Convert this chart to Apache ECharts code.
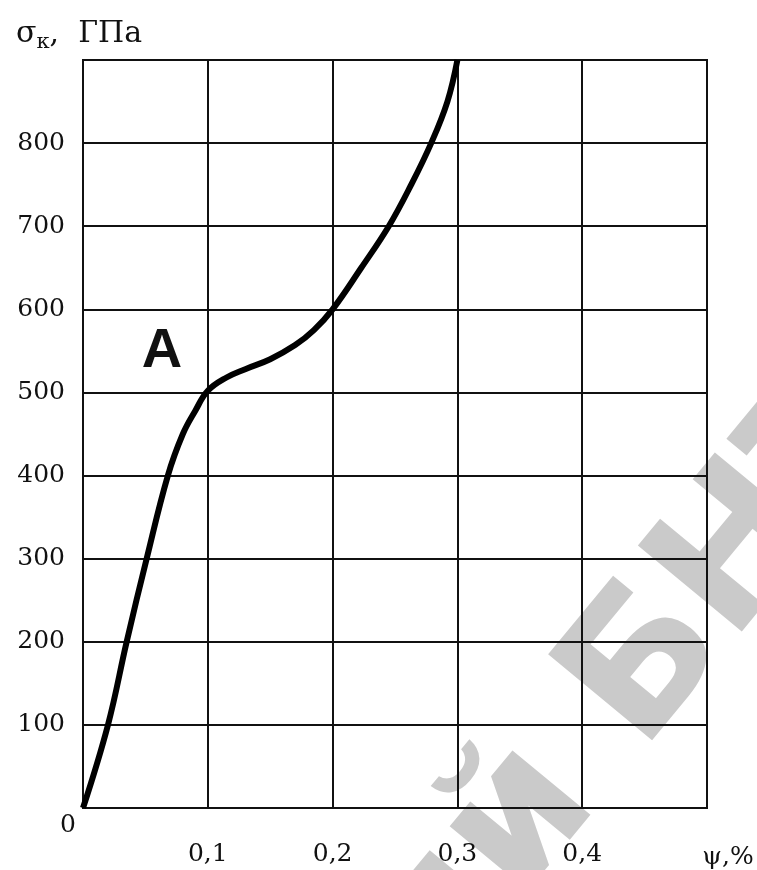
<!DOCTYPE html>
<html>
<head>
<meta charset="utf-8">
<script src="https://cdn.jsdelivr.net/npm/echarts@6/dist/echarts.min.js"></script>
<style>
  html, body { margin: 0; padding: 0; background: #fff; }
  #chart { width: 757px; height: 870px; }
</style>
</head>
<body>
<div id="chart"></div>
<script>
    // кривая σк(ψ), значения
    var psi   = [0, 0.02, 0.035, 0.051, 0.068, 0.08, 0.09, 0.1, 0.115, 0.13, 0.15, 0.17, 0.185, 0.2, 0.223, 0.245, 0.263, 0.279, 0.292, 0.3];
    var sigma = [0, 100,  200,   300,   400,   450,  478,  502, 518,   528,  540,  557,  575,   600, 650,   700,   750,   800,   850,   900];
    var xTicks = [0.1, 0.2, 0.3, 0.4];

    var serif = 'DejaVu Serif';
    var points = [];
    for (var i = 0; i < psi.length; i++) {
        points.push([psi[i], sigma[i]]);
    }

    var myChart = echarts.init(document.getElementById('chart'));
    var option = {
        backgroundColor: '#fff',
        animation: false,
        grid: {
            left: 83,
            right: 50,
            top: 60,
            bottom: 62,
            show: true,
            borderColor: '#111',
            borderWidth: 2
        },
        graphic: [
            {
                // водяной знак
                type: 'text',
                z: -10,
                x: 398,
                y: 972,
                rotation: 0.88,
                style: {
                    text: 'ий БНТУ',
                    font: 'bold 185px "DejaVu Sans"',
                    fill: '#cacaca',
                    align: 'left',
                    verticalAlign: 'middle'
                }
            },
            {
                type: 'text',
                x: 68, y: 825,
                style: { text: '0', font: '25px "DejaVu Serif"', fill: '#111', align: 'center', verticalAlign: 'middle' }
            },
            {
                type: 'text',
                x: 728, y: 857,
                style: { text: 'ψ,%', font: '25px "DejaVu Serif"', fill: '#111', align: 'center', verticalAlign: 'middle' }
            },
            {
                type: 'text',
                x: 162, y: 352,
                style: { text: 'A', font: 'bold 56px "Liberation Sans"', fill: '#111', align: 'center', verticalAlign: 'middle' }
            }
        ],
        xAxis: {
            type: 'value',
            min: 0,
            max: 0.5,
            interval: 0.1,
            axisLine: { show: true, lineStyle: { color: '#111', width: 2 } },
            axisTick: { show: false },
            splitLine: { show: true, lineStyle: { color: '#111', width: 2 } },
            axisLabel: {
                margin: 34,
                fontFamily: serif,
                fontSize: 25,
                color: '#111',
                formatter: function (v) {
                    for (var k = 0; k < xTicks.length; k++) {
                        if (Math.abs(v - xTicks[k]) < 1e-6) return String(xTicks[k]).replace('.', ',');
                    }
                    return '';
                }
            }
        },
        yAxis: {
            type: 'value',
            min: 0,
            max: 900,
            interval: 100,
            name: '{s|σ}{sub|к}{s|,  ГПа}',
            nameLocation: 'end',
            nameGap: 7,
            nameTextStyle: {
                align: 'center',
                padding: [0, 8, 0, 0],
                rich: {
                    s: { fontFamily: serif, fontSize: 30, color: '#111' },
                    sub: { fontFamily: serif, fontSize: 21, color: '#111', padding: [16, 0, 0, 0] }
                }
            },
            axisLine: { show: true, lineStyle: { color: '#111', width: 2 } },
            axisTick: { show: false },
            splitLine: { show: true, lineStyle: { color: '#111', width: 2 } },
            axisLabel: {
                margin: 18,
                fontFamily: serif,
                fontSize: 25,
                color: '#111',
                formatter: function (v) {
                    if (v === 0 || v === 900) return '';
                    return v;
                }
            }
        },
        series: [{
            type: 'line',
            data: points,
            smooth: 0.4,
            showSymbol: false,
            lineStyle: { color: '#000', width: 6 },
            z: 5
        }]
    };
    myChart.setOption(option);
</script>
</body>
</html>
